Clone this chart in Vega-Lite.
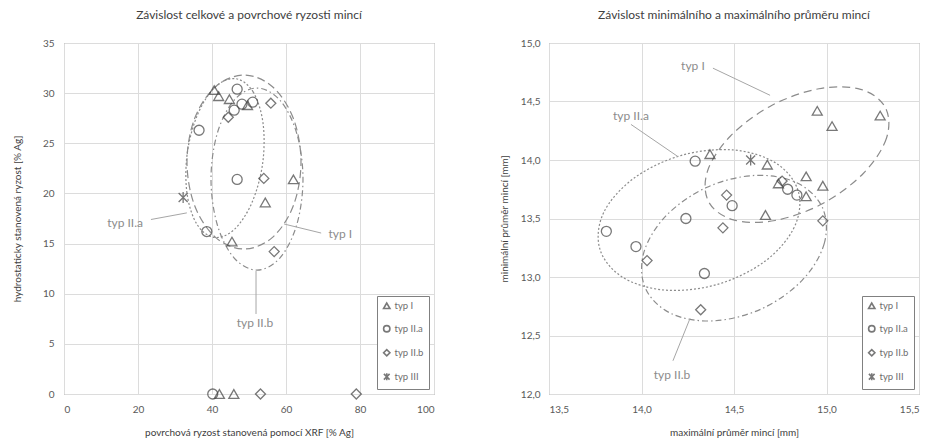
{
  "$schema": "https://vega.github.io/schema/vega-lite/v6.json",
  "padding": {"left": 11, "top": 8, "right": 0, "bottom": 0},
  "background": "white",
  "spacing": 63,
  "config": {
    "font": "Lato",
    "view": {"stroke": "#808080", "strokeWidth": 1},
    "axis": {"grid": true, "gridColor": "#dcdcdc", "domain": false, "ticks": false, "labelFont": "Lato", "labelFontSize": 10, "labelColor": "#595959", "titleFont": "Lato", "titleFontSize": 10, "titleColor": "#404040", "titleFontWeight": "normal", "labelPadding": 10},
    "axisX": {"titlePadding": 13},
    "title": {"font": "Lato", "fontSize": 12, "fontWeight": "normal", "color": "#404040", "offset": 16},
    "legend": {"orient": "bottom-right", "offset": 5, "strokeColor": "#808080", "fillColor": "white", "padding": 5, "labelFont": "Lato", "labelFontSize": 9.5, "labelColor": "#6e6e6e", "rowPadding": 10, "symbolSize": 40, "symbolStrokeWidth": 1.6, "title": null, "labelOffset": 3}
  },
  "datasets": {
    "left_pts": [
      {"typ": "typ I", "x": 40.6, "y": 30.3}, {"typ": "typ I", "x": 41.8, "y": 29.7}, {"typ": "typ I", "x": 44.7, "y": 29.4}, {"typ": "typ I", "x": 49.6, "y": 28.8}, {"typ": "typ I", "x": 62.0, "y": 21.4}, {"typ": "typ I", "x": 54.4, "y": 19.1}, {"typ": "typ I", "x": 45.4, "y": 15.2}, {"typ": "typ I", "x": 42.0, "y": 0}, {"typ": "typ I", "x": 45.9, "y": 0},
      {"typ": "typ II.a", "x": 46.8, "y": 30.4}, {"typ": "typ II.a", "x": 48.1, "y": 28.9}, {"typ": "typ II.a", "x": 51.0, "y": 29.1}, {"typ": "typ II.a", "x": 46.0, "y": 28.3}, {"typ": "typ II.a", "x": 36.5, "y": 26.3}, {"typ": "typ II.a", "x": 46.8, "y": 21.4}, {"typ": "typ II.a", "x": 38.6, "y": 16.2}, {"typ": "typ II.a", "x": 40.2, "y": 0},
      {"typ": "typ II.b", "x": 55.9, "y": 29.0}, {"typ": "typ II.b", "x": 44.4, "y": 27.6}, {"typ": "typ II.b", "x": 54.0, "y": 21.5}, {"typ": "typ II.b", "x": 56.8, "y": 14.2}, {"typ": "typ II.b", "x": 53.1, "y": 0}, {"typ": "typ II.b", "x": 79.0, "y": 0},
      {"typ": "typ III", "x": 32.2, "y": 19.6}
    ],
    "right_pts": [
      {"typ": "typ I", "x": 14.37, "y": 14.05}, {"typ": "typ I", "x": 14.95, "y": 14.42}, {"typ": "typ I", "x": 15.29, "y": 14.38}, {"typ": "typ I", "x": 15.03, "y": 14.29}, {"typ": "typ I", "x": 14.68, "y": 13.96}, {"typ": "typ I", "x": 14.89, "y": 13.86}, {"typ": "typ I", "x": 14.74, "y": 13.80}, {"typ": "typ I", "x": 14.89, "y": 13.69}, {"typ": "typ I", "x": 14.98, "y": 13.78}, {"typ": "typ I", "x": 14.67, "y": 13.53},
      {"typ": "typ II.a", "x": 14.29, "y": 13.99}, {"typ": "typ II.a", "x": 14.79, "y": 13.75}, {"typ": "typ II.a", "x": 14.84, "y": 13.70}, {"typ": "typ II.a", "x": 14.49, "y": 13.61}, {"typ": "typ II.a", "x": 14.24, "y": 13.50}, {"typ": "typ II.a", "x": 13.81, "y": 13.39}, {"typ": "typ II.a", "x": 13.97, "y": 13.26}, {"typ": "typ II.a", "x": 14.34, "y": 13.03},
      {"typ": "typ II.b", "x": 14.76, "y": 13.82}, {"typ": "typ II.b", "x": 14.46, "y": 13.70}, {"typ": "typ II.b", "x": 14.44, "y": 13.42}, {"typ": "typ II.b", "x": 14.98, "y": 13.48}, {"typ": "typ II.b", "x": 14.03, "y": 13.14}, {"typ": "typ II.b", "x": 14.32, "y": 12.72},
      {"typ": "typ III", "x": 14.59, "y": 14.00}
    ],
    "left_ell": [
      {"e": "I", "o": 0, "x": 64.05, "y": 23.13}, {"e": "I", "o": 1, "x": 62.0, "y": 27.47}, {"e": "I", "o": 2, "x": 56.35, "y": 30.64}, {"e": "I", "o": 3, "x": 48.65, "y": 31.8}, {"e": "I", "o": 4, "x": 40.95, "y": 30.64}, {"e": "I", "o": 5, "x": 35.3, "y": 27.47}, {"e": "I", "o": 6, "x": 33.24, "y": 23.13}, {"e": "I", "o": 7, "x": 35.3, "y": 18.79}, {"e": "I", "o": 8, "x": 40.95, "y": 15.62}, {"e": "I", "o": 9, "x": 48.65, "y": 14.46}, {"e": "I", "o": 10, "x": 56.35, "y": 15.62}, {"e": "I", "o": 11, "x": 62.0, "y": 18.79},
      {"e": "IIa", "o": 0, "x": 46.41, "y": 31.44}, {"e": "IIa", "o": 1, "x": 51.11, "y": 30.13}, {"e": "IIa", "o": 2, "x": 53.78, "y": 27.04}, {"e": "IIa", "o": 3, "x": 53.7, "y": 23.02}, {"e": "IIa", "o": 4, "x": 50.86, "y": 19.14}, {"e": "IIa", "o": 5, "x": 46.08, "y": 16.43}, {"e": "IIa", "o": 6, "x": 40.62, "y": 15.62}, {"e": "IIa", "o": 7, "x": 35.92, "y": 16.93}, {"e": "IIa", "o": 8, "x": 33.24, "y": 20.02}, {"e": "IIa", "o": 9, "x": 33.32, "y": 24.04}, {"e": "IIa", "o": 10, "x": 36.16, "y": 27.92}, {"e": "IIa", "o": 11, "x": 40.95, "y": 30.63},
      {"e": "IIb", "o": 0, "x": 64.59, "y": 21.44}, {"e": "IIb", "o": 1, "x": 62.92, "y": 25.97}, {"e": "IIb", "o": 2, "x": 58.38, "y": 29.29}, {"e": "IIb", "o": 3, "x": 52.16, "y": 30.51}, {"e": "IIb", "o": 4, "x": 45.95, "y": 29.29}, {"e": "IIb", "o": 5, "x": 41.41, "y": 25.97}, {"e": "IIb", "o": 6, "x": 39.73, "y": 21.44}, {"e": "IIb", "o": 7, "x": 41.41, "y": 16.9}, {"e": "IIb", "o": 8, "x": 45.95, "y": 13.58}, {"e": "IIb", "o": 9, "x": 52.16, "y": 12.36}, {"e": "IIb", "o": 10, "x": 58.38, "y": 13.58}, {"e": "IIb", "o": 11, "x": 62.92, "y": 16.9}
    ],
    "right_ell": [
      {"e": "I", "o": 0, "x": 15.318, "y": 14.449}, {"e": "I", "o": 1, "x": 15.324, "y": 14.186}, {"e": "I", "o": 2, "x": 15.2, "y": 13.887}, {"e": "I", "o": 3, "x": 14.98, "y": 13.628}, {"e": "I", "o": 4, "x": 14.722, "y": 13.483}, {"e": "I", "o": 5, "x": 14.497, "y": 13.488}, {"e": "I", "o": 6, "x": 14.363, "y": 13.643}, {"e": "I", "o": 7, "x": 14.357, "y": 13.906}, {"e": "I", "o": 8, "x": 14.481, "y": 14.205}, {"e": "I", "o": 9, "x": 14.701, "y": 14.464}, {"e": "I", "o": 10, "x": 14.959, "y": 14.609}, {"e": "I", "o": 11, "x": 15.184, "y": 14.604},
      {"e": "IIa", "o": 0, "x": 14.848, "y": 13.73}, {"e": "IIa", "o": 1, "x": 14.825, "y": 13.423}, {"e": "IIa", "o": 2, "x": 14.665, "y": 13.132}, {"e": "IIa", "o": 3, "x": 14.409, "y": 12.936}, {"e": "IIa", "o": 4, "x": 14.128, "y": 12.888}, {"e": "IIa", "o": 5, "x": 13.895, "y": 13.001}, {"e": "IIa", "o": 6, "x": 13.774, "y": 13.244}, {"e": "IIa", "o": 7, "x": 13.796, "y": 13.552}, {"e": "IIa", "o": 8, "x": 13.957, "y": 13.842}, {"e": "IIa", "o": 9, "x": 14.212, "y": 14.038}, {"e": "IIa", "o": 10, "x": 14.494, "y": 14.086}, {"e": "IIa", "o": 11, "x": 14.727, "y": 13.973},
      {"e": "IIb", "o": 0, "x": 14.978, "y": 13.593}, {"e": "IIb", "o": 1, "x": 14.988, "y": 13.287}, {"e": "IIb", "o": 2, "x": 14.868, "y": 12.971}, {"e": "IIb", "o": 3, "x": 14.649, "y": 12.728}, {"e": "IIb", "o": 4, "x": 14.39, "y": 12.625}, {"e": "IIb", "o": 5, "x": 14.161, "y": 12.687}, {"e": "IIb", "o": 6, "x": 14.022, "y": 12.9}, {"e": "IIb", "o": 7, "x": 14.012, "y": 13.206}, {"e": "IIb", "o": 8, "x": 14.132, "y": 13.522}, {"e": "IIb", "o": 9, "x": 14.351, "y": 13.765}, {"e": "IIb", "o": 10, "x": 14.61, "y": 13.868}, {"e": "IIb", "o": 11, "x": 14.839, "y": 13.806}
    ],
    "left_txt": [
      {"x": 16.5, "y": 17.1, "t": "typ II.a"}, {"x": 74.7, "y": 16.0, "t": "typ I"}, {"x": 51.6, "y": 7.1, "t": "typ II.b"}
    ],
    "left_rules": [
      {"x": 23.5, "y": 17.4, "x2": 33.2, "y2": 18.06}, {"x": 59.5, "y": 16.95, "x2": 69.5, "y2": 16.05}, {"x": 51.9, "y": 12.26, "x2": 51.9, "y2": 7.98}
    ],
    "right_txt": [
      {"x": 14.278, "y": 14.8, "t": "typ I"}, {"x": 13.943, "y": 14.373, "t": "typ II.a"}, {"x": 14.165, "y": 12.163, "t": "typ II.b"}
    ],
    "right_rules": [
      {"x": 14.386, "y": 14.785, "x2": 14.695, "y2": 14.553}, {"x": 13.943, "y": 14.304, "x2": 14.197, "y2": 14.029}, {"x": 14.262, "y": 12.645, "x2": 14.17, "y2": 12.284}
    ]
  },
  "hconcat": [
    {
      "title": "Závislost celkové a povrchové ryzosti mincí",
      "width": 370,
      "height": 351,
      "encoding": {
        "x": {"field": "x", "type": "quantitative", "scale": {"domain": [0, 100], "nice": false, "zero": false}, "axis": {"values": [0, 20, 40, 60, 80, 100], "title": "povrchová ryzost stanovená pomocí XRF [% Ag]"}},
        "y": {"field": "y", "type": "quantitative", "scale": {"domain": [0, 35], "nice": false, "zero": false}, "axis": {"values": [0, 5, 10, 15, 20, 25, 30, 35], "title": "hydrostaticky stanovená ryzost [% Ag]", "titlePadding": 20, "labelPadding": 10}}
      },
      "layer": [
        {
          "data": {"name": "left_ell"},
          "mark": {"type": "line", "interpolate": "cardinal-closed", "color": "#8c8c8c", "strokeWidth": 1.2},
          "encoding": {
            "detail": {"field": "e"},
            "order": {"field": "o", "type": "quantitative"},
            "strokeDash": {"field": "e", "type": "nominal", "scale": {"domain": ["I", "IIa", "IIb"], "range": [[8, 4], [2, 2], [6, 3, 1.5, 3]]}, "legend": null}
          }
        },
        {
          "data": {"name": "left_rules"},
          "mark": {"type": "rule", "color": "#a6a6a6", "strokeWidth": 1},
          "encoding": {"x2": {"field": "x2"}, "y2": {"field": "y2"}}
        },
        {
          "data": {"name": "left_txt"},
          "mark": {"type": "text", "color": "#8c8c8c", "fontSize": 12, "font": "Lato", "align": "center", "baseline": "middle"},
          "encoding": {"text": {"field": "t"}}
        },
        {
          "data": {"name": "left_pts"},
          "mark": {"type": "point", "filled": false, "strokeWidth": 1.3, "size": 100, "color": "#404040"},
          "encoding": {
            "shape": {"field": "typ", "type": "nominal", "scale": {"domain": ["typ I", "typ II.a", "typ II.b", "typ III"], "range": ["triangle-up", "circle", "diamond", "M-0.9,-0.9L0.9,0.9M-0.9,0.9L0.9,-0.9M0,-1.1L0,1.1"]}}
          }
        }
      ]
    },
    {
      "title": "Závislost minimálního a maximálního průměru mincí",
      "width": 370,
      "height": 351,
      "encoding": {
        "x": {"field": "x", "type": "quantitative", "scale": {"domain": [13.5, 15.5], "nice": false, "zero": false}, "axis": {"values": [13.5, 14, 14.5, 15, 15.5], "labelExpr": "replace(format(datum.value, '.1f'), '.', ',')", "title": "maximální průměr mincí [mm]"}},
        "y": {"field": "y", "type": "quantitative", "scale": {"domain": [12, 15], "nice": false, "zero": false}, "axis": {"values": [12, 12.5, 13, 13.5, 14, 14.5, 15], "labelExpr": "replace(format(datum.value, '.1f'), '.', ',')", "title": "minimální průměr mincí [mm]", "titlePadding": 11, "labelPadding": 9}}
      },
      "layer": [
        {
          "data": {"name": "right_ell"},
          "mark": {"type": "line", "interpolate": "cardinal-closed", "color": "#8c8c8c", "strokeWidth": 1.2},
          "encoding": {
            "detail": {"field": "e"},
            "order": {"field": "o", "type": "quantitative"},
            "strokeDash": {"field": "e", "type": "nominal", "scale": {"domain": ["I", "IIa", "IIb"], "range": [[8, 5], [2, 2], [6, 3, 1.5, 3]]}, "legend": null}
          }
        },
        {
          "data": {"name": "right_rules"},
          "mark": {"type": "rule", "color": "#a6a6a6", "strokeWidth": 1},
          "encoding": {"x2": {"field": "x2"}, "y2": {"field": "y2"}}
        },
        {
          "data": {"name": "right_txt"},
          "mark": {"type": "text", "color": "#8c8c8c", "fontSize": 12, "font": "Lato", "align": "center", "baseline": "middle"},
          "encoding": {"text": {"field": "t"}}
        },
        {
          "data": {"name": "right_pts"},
          "mark": {"type": "point", "filled": false, "strokeWidth": 1.3, "size": 100, "color": "#404040"},
          "encoding": {
            "shape": {"field": "typ", "type": "nominal", "scale": {"domain": ["typ I", "typ II.a", "typ II.b", "typ III"], "range": ["triangle-up", "circle", "diamond", "M-0.9,-0.9L0.9,0.9M-0.9,0.9L0.9,-0.9M0,-1.1L0,1.1"]}}
          }
        }
      ]
    }
  ],
  "resolve": {"scale": {"x": "independent", "y": "independent", "shape": "independent", "strokeDash": "independent"}, "legend": {"shape": "independent"}}
}
